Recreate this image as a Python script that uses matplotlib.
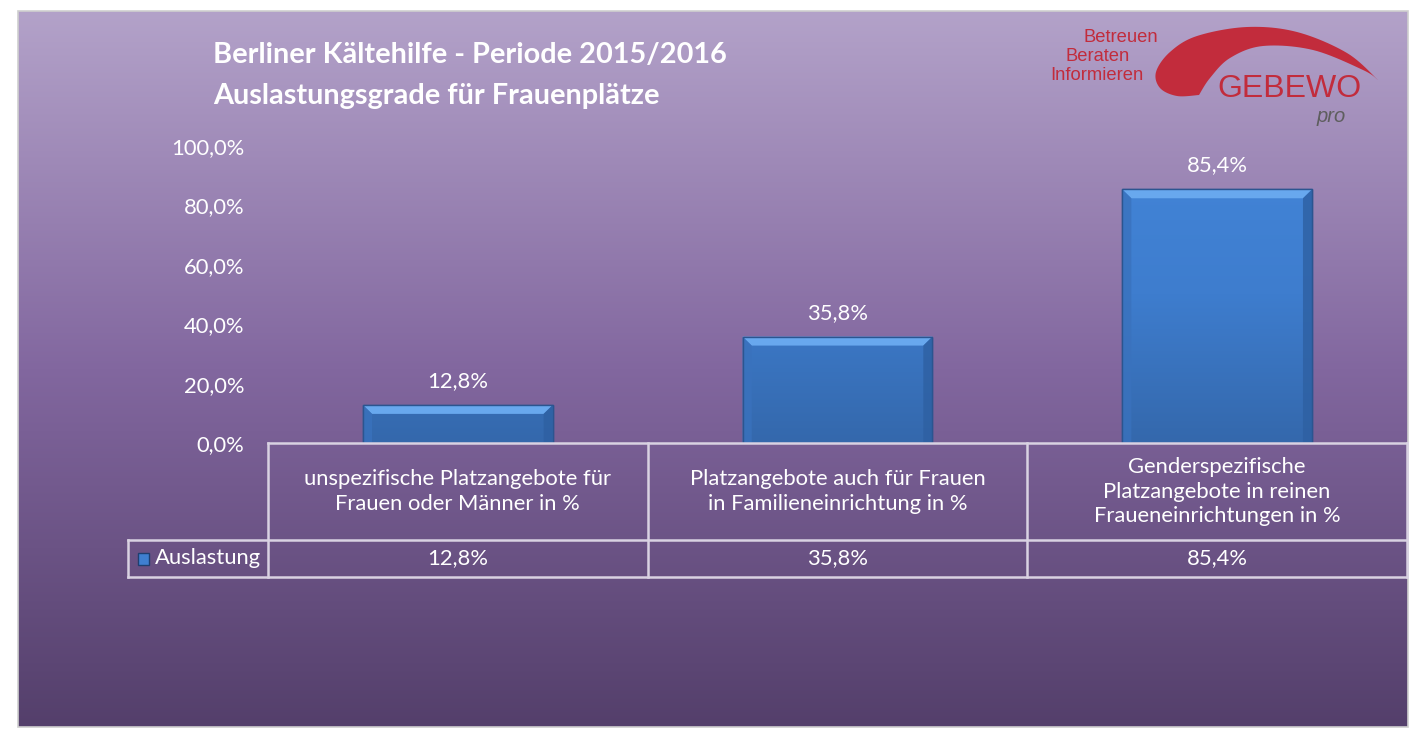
import matplotlib
matplotlib.use("Agg")
import matplotlib.pyplot as plt
import numpy as np
from matplotlib.colors import LinearSegmentedColormap
from matplotlib.patches import Rectangle, Polygon
from matplotlib.transforms import blended_transform_factory

plt.rcParams["font.family"] = ["Lato", "DejaVu Sans"]

# data
categories = [
    "unspezifische Platzangebote für\nFrauen oder Männer in %",
    "Platzangebote auch für Frauen\nin Familieneinrichtung in %",
    "Genderspezifische\nPlatzangebote in reinen\nFraueneinrichtungen in %",
]
auslastung = [12.8, 35.8, 85.4]
series_name = "Auslastung"
yticks = [0, 20, 40, 60, 80, 100]
title_lines = ["Berliner Kältehilfe - Periode 2015/2016", "Auslastungsgrade für Frauenplätze"]

W, H = 1412, 729
WHITE = "#ffffff"
GRID = "#d9d2e2"
RED = "#c22c3c"
FS = 15.8


def de_pct(v):
    return f"{v:.1f}".replace(".", ",") + "%"


def smooth(points, n=12):
    """Catmull-Rom through the given points (open curve)."""
    p = np.array(points, dtype=float)
    p = np.vstack([p[0], p, p[-1]])
    out = []
    for i in range(1, len(p) - 2):
        p0, p1, p2, p3 = p[i - 1], p[i], p[i + 1], p[i + 2]
        for t in np.linspace(0, 1, n, endpoint=False):
            t2, t3 = t * t, t * t * t
            out.append(0.5 * ((2 * p1) + (-p0 + p2) * t + (2 * p0 - 5 * p1 + 4 * p2 - p3) * t2
                              + (-p0 + 3 * p1 - 3 * p2 + p3) * t3))
    out.append(p[-2])
    return np.array(out)


fig = plt.figure(figsize=(W / 100, H / 100), dpi=100, facecolor="white")

# background panel in pixel coords (y down)
bg = fig.add_axes([0, 0, 1, 1])
bg_cmap = LinearSegmentedColormap.from_list(
    "bg", [(0, "#b3a2c9"), (0.5, "#82679f"), (1, "#543f6b")])
grad = np.linspace(0, 1, 256).reshape(-1, 1)
bg.imshow(grad, cmap=bg_cmap, aspect="auto", extent=[18, 1408, 727, 11], zorder=0)
bg.add_patch(Rectangle((18, 11), 1390, 716, fill=False, edgecolor="#cfcfcf", lw=1.2, zorder=1))
bg.set_xlim(0, W)
bg.set_ylim(H, 0)
bg.axis("off")

# title
bg.text(213, 55, title_lines[0], color=WHITE, fontsize=20.8, fontweight="bold", va="center", ha="left")
bg.text(213, 96, title_lines[1], color=WHITE, fontsize=20.8, fontweight="bold", va="center", ha="left")

# logo
outer = [(1378, 80), (1347, 53), (1297, 32), (1247, 27), (1197, 36), (1170, 52),
         (1156, 72), (1160, 88), (1177, 96), (1199, 95)]
inner = [(1199, 95), (1210, 78), (1230, 58), (1263, 46), (1313, 50), (1363, 70), (1378, 80)]
swoosh = np.vstack([smooth(outer), smooth(inner)])
bg.add_patch(Polygon(swoosh, closed=True, facecolor=RED, edgecolor="none", zorder=2))
bg.text(1289, 97, "GEBEWO", color=RED, fontsize=23, family="Liberation Sans",
        ha="center", va="baseline", zorder=3)
bg.text(1331, 116, "pro", color="#5e5e5e", fontsize=14.5, family="Liberation Sans",
        style="italic", ha="center", va="center", zorder=3)
logo_kw = dict(color=RED, fontsize=13.2, family="Liberation Sans", ha="right", va="center")
bg.text(1158, 37, "Betreuen", **logo_kw)
bg.text(1130, 56, "Beraten", **logo_kw)
bg.text(1144, 75, "Informieren", **logo_kw)

# main axes
ax = fig.add_axes([268 / W, 1 - 443 / H, (1407 - 268) / W, (443 - 146) / H])
ax.set_facecolor("none")
x = np.arange(len(categories))
bar_w = 0.5
bars = ax.bar(x, auslastung, bar_w, color="#3f7fd0", edgecolor="#2a5490", lw=1, zorder=2)

bar_cmap = LinearSegmentedColormap.from_list("bar", ["#3468ac", "#3e7dce", "#4385d8"])
bar_grad = np.linspace(1, 0, 256).reshape(-1, 1)
bx, by = 0.024, 3.0
for b in bars:
    x0, w, h = b.get_x(), b.get_width(), b.get_height()
    im = ax.imshow(bar_grad, cmap=bar_cmap, aspect="auto", vmin=0, vmax=1,
                   extent=[x0, x0 + w, 0, 100], zorder=2.1)
    im.set_clip_path(b)
    # top bevel
    ax.add_patch(Polygon([(x0, h), (x0 + w, h), (x0 + w - bx, h - by), (x0 + bx, h - by)],
                         closed=True, facecolor="#68a8ee", edgecolor="none", zorder=2.2))
    # side bevels
    ax.add_patch(Polygon([(x0, h), (x0 + bx, h - by), (x0 + bx, 0), (x0, 0)],
                         closed=True, facecolor="#3a72bd", edgecolor="none", alpha=0.8, zorder=2.2))
    ax.add_patch(Polygon([(x0 + w, h), (x0 + w - bx, h - by), (x0 + w - bx, 0), (x0 + w, 0)],
                         closed=True, facecolor="#2e60a2", edgecolor="none", alpha=0.8, zorder=2.2))
    ax.add_patch(Rectangle((x0, 0), w, h, fill=False, edgecolor="#2b5590", lw=1, zorder=2.3))
    ax.annotate(de_pct(h), xy=(x0 + w / 2, h), xytext=(0, 10), textcoords="offset points",
                ha="center", va="bottom", color=WHITE, fontsize=FS)

ax.set_xlim(-0.5, len(categories) - 0.5)
ax.set_ylim(0, 100)
ax.set_yticks(yticks)
ax.set_yticklabels([de_pct(v) for v in yticks], color=WHITE, fontsize=FS)
ax.tick_params(axis="y", length=0, pad=17)
ax.set_xticks([])
for s in ax.spines.values():
    s.set_visible(False)

# data table below the axes
tr = blended_transform_factory(ax.transData, ax.transAxes)
px = 1 / (443 - 146)
row1 = -97 * px
row2 = -134 * px
leg_left = -0.5 - 140 / 379.7
kw = dict(color=GRID, lw=1.8, transform=tr, clip_on=False, zorder=3)
ax.plot([-0.5, 2.5], [0, 0], **kw)
ax.plot([leg_left, 2.5], [row1, row1], **kw)
ax.plot([leg_left, 2.5], [row2, row2], **kw)
ax.plot([leg_left, leg_left], [row1, row2], **kw)
for xb in [-0.5, 0.5, 1.5, 2.5]:
    ax.plot([xb, xb], [0, row2], **kw)
for i, (cat, v) in enumerate(zip(categories, auslastung)):
    ax.text(i, row1 / 2, cat, transform=tr, ha="center", va="center", color=WHITE,
            fontsize=FS, linespacing=1.3, clip_on=False)
    ax.text(i, (row1 + row2) / 2, de_pct(v), transform=tr, ha="center", va="center",
            color=WHITE, fontsize=FS, clip_on=False)

# legend key in the table
ax.add_patch(Rectangle((leg_left + 10 / 379.7, -122 * px), 11 / 379.7, 12 * px, transform=tr,
                       facecolor="#3f7fd0", edgecolor="#1f3f70", lw=1, clip_on=False, zorder=3))
ax.text(leg_left + 27 / 379.7, (row1 + row2) / 2, series_name, transform=tr, ha="left",
        va="center", color=WHITE, fontsize=FS, clip_on=False)

fig.savefig("out.png", dpi=100, facecolor="white")
